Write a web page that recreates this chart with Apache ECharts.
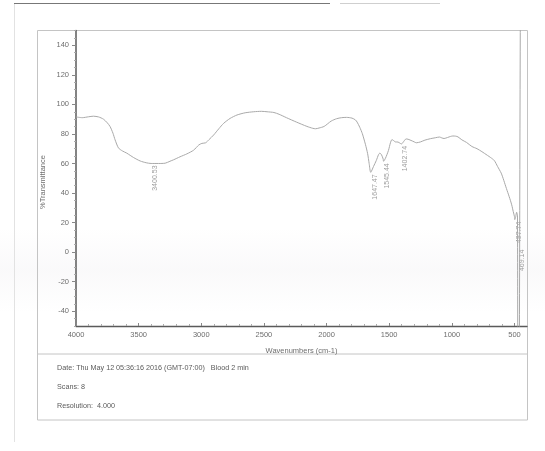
<!DOCTYPE html>
<html>
<head>
<meta charset="utf-8">
<script src="https://cdn.jsdelivr.net/npm/echarts@6/dist/echarts.min.js"></script>
<style>
  html, body { margin: 0; padding: 0; background: #ffffff; }
  #chart { width: 545px; height: 451px; }
</style>
</head>
<body>
<div id="chart"></div>
<script>
// FT-IR spectrum: wavenumber (cm-1) vs %Transmittance
const wavenumbers = [
  4000, 3950, 3900, 3861, 3820, 3781, 3750, 3728, 3705, 3688, 3661, 3630, 3595, 3540, 3488, 3440,
  3400.53, 3340, 3288, 3250, 3221, 3170, 3115, 3061, 3020, 2995, 2965, 2940, 2901, 2860, 2821, 2770,
  2715, 2650, 2581, 2520, 2475, 2420, 2379, 2320, 2240, 2157, 2110, 2088, 2060, 2019, 1963, 1920,
  1880, 1840, 1797, 1770, 1756, 1735, 1714, 1690, 1672, 1660, 1647.47, 1625, 1603, 1585, 1575, 1562,
  1548, 1545.44, 1530, 1506, 1490, 1478, 1465, 1451, 1430, 1415, 1402.74, 1385, 1370, 1359, 1326, 1300,
  1284, 1250, 1215, 1170, 1132, 1098, 1080, 1062, 1034, 1010, 992, 970, 951, 920, 882, 840,
  799, 760, 716, 690, 661, 635, 606, 595, 585, 564, 542, 522, 510, 500, 497.74, 490,
  483, 476, 469.14, 440, 400
];
const transmittance = [
  91.5, 91.0, 91.6, 92.0, 91.5, 90.0, 87.5, 85.0, 80.5, 76.0, 70.5, 68.5, 67.0, 64.0, 61.7, 60.5,
  60.0, 60.0, 60.2, 61.5, 62.5, 64.5, 66.5, 69.0, 72.5, 73.6, 74.0, 76.0, 79.3, 83.5, 87.2, 90.5,
  92.8, 94.3, 95.0, 95.3, 95.0, 94.5, 93.3, 91.0, 88.0, 85.1, 83.8, 83.5, 84.0, 85.1, 88.7, 90.3,
  91.0, 91.2, 90.7, 89.5, 88.0, 84.5, 80.1, 73.0, 66.6, 60.0, 54.0, 58.0, 62.0, 66.0, 67.0, 66.0,
  63.0, 61.5, 63.5, 68.8, 74.0, 76.2, 75.5, 74.6, 74.5, 73.8, 73.2, 74.8, 76.4, 76.6, 75.6, 74.6,
  74.0, 74.6, 75.8, 76.8, 77.4, 77.9, 77.3, 76.9, 77.6, 78.3, 78.6, 78.5, 78.0, 76.0, 74.2, 71.5,
  70.0, 68.0, 65.5, 64.0, 62.0, 58.0, 53.5, 51.0, 48.5, 43.0, 37.5, 32.0, 27.5, 24.0, 22.0, 24.0,
  27.0, 25.0, -300, 300, 300
];
const peakWavenumbers = [3400.53, 1647.47, 1545.44, 1402.74, 497.74, 469.14];
const xTickLabels = [4000, 3500, 3000, 2500, 2000, 1500, 1000, 500];
const yTickLabels = [-40, -20, 0, 20, 40, 60, 80, 100, 120, 140];
const footerLines = [
  'Date: Thu May 12 05:36:16 2016 (GMT-07:00)   Blood 2 min',
  'Scans: 8',
  'Resolution:  4.000'
];

const X_MIN = 400, X_MAX = 4000, Y_MIN = -50, Y_MAX = 150;
const FONT = '"Liberation Sans", Arial, sans-serif';

const spectrum = wavenumbers.map((w, i) => [w, transmittance[i]]);

// Peak label anchors: just under the curve minimum; peaks that fall off-scale
// are stacked under the previous label instead.
const peakPoints = [];
let prevAnchor = null;
peakWavenumbers.forEach(w => {
  const v = transmittance[wavenumbers.indexOf(w)];
  let anchor = v;
  if (v < Y_MIN || v > Y_MAX) anchor = prevAnchor - 19;
  peakPoints.push([w, anchor]);
  prevAnchor = anchor;
});

// minor tick positions
const xMinor = [];
for (let w = 500; w <= 4000; w += 100) if (w % 500 !== 0) xMinor.push(w);
const yMinor = [];
for (let v = -50; v <= 150; v += 5) if (v % 20 !== 0) yMinor.push(v);

const grid = { left: 76, top: 30.5, width: 451, height: 295.5 };
const axisColor = '#5a5a5a';
const labelColor = '#6e6e6e';
const plain = v => String(v);

const chart = echarts.init(document.getElementById('chart'), null, { renderer: 'canvas' });
chart.setOption({
  backgroundColor: '#ffffff',
  animation: false,
  grid: Object.assign({ containLabel: false }, grid),
  xAxis: [
    {
      type: 'value', min: X_MIN, max: X_MAX, inverse: true,
      name: 'Wavenumbers (cm-1)', nameLocation: 'middle', nameGap: 21,
      nameTextStyle: { color: labelColor, fontFamily: FONT, fontSize: 7.5 },
      axisLine: { show: true, onZero: false, lineStyle: { color: axisColor, width: 1.3 } },
      axisTick: { show: true, inside: true, length: 3, customValues: xTickLabels, lineStyle: { color: '#888' } },
      axisLabel: { show: true, customValues: xTickLabels, formatter: plain, margin: 5, color: labelColor, fontFamily: FONT, fontSize: 7.5 },
      splitLine: { show: false }
    },
    {
      type: 'value', min: X_MIN, max: X_MAX, inverse: true, position: 'bottom',
      axisLine: { show: false, onZero: false },
      axisTick: { show: true, inside: true, length: 2, customValues: xMinor, lineStyle: { color: '#aaa' } },
      axisLabel: { show: false },
      splitLine: { show: false }
    }
  ],
  yAxis: [
    {
      type: 'value', min: Y_MIN, max: Y_MAX,
      axisLine: { show: true, onZero: false, lineStyle: { color: axisColor, width: 1.5 } },
      axisTick: { show: true, inside: false, length: 4, customValues: yTickLabels, lineStyle: { color: '#888' } },
      axisLabel: { show: true, customValues: yTickLabels, formatter: plain, margin: 7, color: labelColor, fontFamily: FONT, fontSize: 7.5 },
      splitLine: { show: false }
    },
    {
      type: 'value', min: Y_MIN, max: Y_MAX, position: 'left',
      axisLine: { show: false, onZero: false },
      axisTick: { show: true, inside: false, length: 2, customValues: yMinor, lineStyle: { color: '#aaa' } },
      axisLabel: { show: false },
      splitLine: { show: false }
    }
  ],
  series: [
    {
      type: 'line', name: 'spectrum', data: spectrum, xAxisIndex: 0, yAxisIndex: 0,
      showSymbol: false, symbol: 'none', smooth: 0.25, clip: true,
      lineStyle: { color: '#a9a9a9', width: 1 }
    },
    {
      type: 'scatter', name: 'peaks', data: peakPoints, xAxisIndex: 0, yAxisIndex: 0,
      symbolSize: 0, silent: true,
      label: {
        show: true, position: 'bottom', distance: 2, rotate: 90,
        align: 'right', verticalAlign: 'middle', offset: [0, 4],
        formatter: p => p.value[0].toFixed(2),
        color: '#858585', fontFamily: FONT, fontSize: 7
      }
    }
  ],
  graphic: [
    // page edge marks
    { type: 'line', shape: { x1: 14, y1: 3.5, x2: 330, y2: 3.5 }, style: { stroke: '#777', lineWidth: 1.2 }, silent: true },
    { type: 'line', shape: { x1: 340, y1: 3.5, x2: 440, y2: 3.5 }, style: { stroke: '#cfcfcf', lineWidth: 1 }, silent: true },
    { type: 'line', shape: { x1: 14.5, y1: 4, x2: 14.5, y2: 442 }, style: { stroke: '#e2e2e2', lineWidth: 1 }, silent: true },
    // faint haze band
    {
      type: 'rect', shape: { x: 0, y: 228, width: 545, height: 85 }, silent: true, z: -1,
      style: {
        fill: new echarts.graphic.LinearGradient(0, 0, 0, 1, [
          { offset: 0, color: 'rgba(205,200,210,0)' },
          { offset: 0.5, color: 'rgba(205,200,210,0.10)' },
          { offset: 1, color: 'rgba(205,200,210,0)' }
        ])
      }
    },
    // outer frame and separator
    { type: 'rect', shape: { x: 37.5, y: 30.5, width: 490, height: 389.5 }, style: { fill: 'none', stroke: '#c4c4c4', lineWidth: 1 }, silent: true },
    { type: 'line', shape: { x1: 37.5, y1: 354, x2: 527.5, y2: 354 }, style: { stroke: '#c4c4c4', lineWidth: 1 }, silent: true },
    // y-axis title
    {
      type: 'text', x: 43, y: 182, rotation: Math.PI / 2, silent: true,
      style: { text: '%Transmittance', fill: labelColor, font: '7.5px ' + FONT, align: 'center', verticalAlign: 'middle' }
    },
    // footer
    ...footerLines.map((t, i) => ({
      type: 'text', x: 57, y: 368 + i * 19.2, silent: true,
      style: { text: t, fill: '#5a5a5a', font: '7.2px ' + FONT, align: 'left', verticalAlign: 'middle' }
    }))
  ]
});
</script>
</body>
</html>
